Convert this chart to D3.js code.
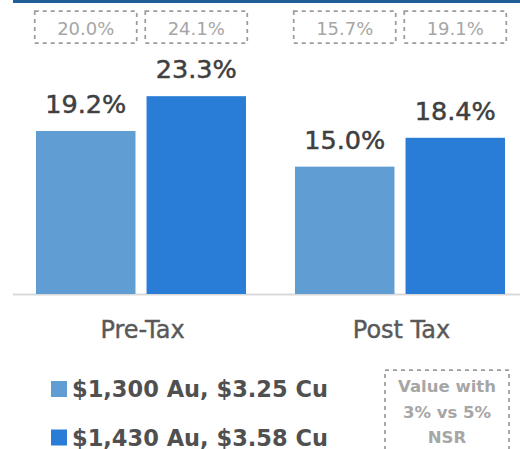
<!DOCTYPE html>
<html>
<head>
<meta charset="utf-8">
<script src="https://cdn.jsdelivr.net/npm/d3@7"></script>
<style>
  body { margin: 0; background: #fff; }
  svg { display: block; font-family: "DejaVu Sans", "Liberation Sans", sans-serif; }
</style>
</head>
<body>
<svg id="chart" width="520" height="449"></svg>
<script>
// data
var categories = ['Pre-Tax', 'Post Tax'];
var seriesNames = ['$1,300 Au, $3.25 Cu', '$1,430 Au, $3.58 Cu'];
var seriesColors = ['#5f9dd2', '#2a7dd6'];
var values3pct = [[19.2, 23.3], [15.0, 18.4]];   // [category][series]
var values5pct = [[20.0, 24.1], [15.7, 19.1]];   // shown in dashed boxes
var noteLines = ['Value with', '3% vs 5%', 'NSR'];

var svg = d3.select('#chart');
var baseY = 294;

var x0 = d3.scaleBand().domain(categories).range([12, 530]);
var x1 = d3.scaleBand().domain([0, 1]).range([24, 234]).paddingInner(0.1);
var y = d3.scaleLinear().domain([0, 25]).range([baseY, baseY - 25 * 8.49]);

// top rule
svg.append('rect').attr('x', 13).attr('y', 0).attr('width', 507).attr('height', 3)
  .attr('fill', '#1f5f96');

// baseline
svg.append('line').attr('x1', 13).attr('x2', 520).attr('y1', baseY + 0.5).attr('y2', baseY + 0.5)
  .attr('stroke', '#d9d9d9').attr('stroke-width', 2);

var groups = svg.selectAll('g.grp').data(categories).enter().append('g')
  .attr('class', 'grp')
  .attr('transform', function (d) { return 'translate(' + x0(d) + ',0)'; });

groups.selectAll('rect.bar')
  .data(function (d, i) { return values3pct[i].map(function (v, j) { return { s: j, v: v }; }); })
  .enter().append('rect')
  .attr('class', 'bar')
  .attr('x', function (d) { return x1(d.s); })
  .attr('y', function (d) { return y(d.v); })
  .attr('width', x1.bandwidth())
  .attr('height', function (d) { return baseY - y(d.v); })
  .attr('fill', function (d) { return seriesColors[d.s]; });

groups.selectAll('text.val')
  .data(function (d, i) { return values3pct[i].map(function (v, j) { return { s: j, v: v }; }); })
  .enter().append('text')
  .attr('class', 'val')
  .attr('x', function (d) { return x1(d.s) + x1.bandwidth() / 2; })
  .attr('y', function (d) { return y(d.v) - 18; })
  .attr('text-anchor', 'middle')
  .attr('font-size', 25.5)
  .attr('fill', '#404040')
  .attr('stroke', '#404040')
  .attr('stroke-width', 0.5)
  .text(function (d) { return d.v.toFixed(1) + '%'; });

// dashed boxes with 5% NSR values
var boxes = groups.selectAll('g.box')
  .data(function (d, i) { return values5pct[i].map(function (v, j) { return { s: j, v: v }; }); })
  .enter().append('g').attr('class', 'box');

boxes.append('rect')
  .attr('x', function (d) { return x1(d.s) + x1.bandwidth() / 2 - 51; })
  .attr('y', 11)
  .attr('width', 102)
  .attr('height', 32)
  .attr('fill', 'none')
  .attr('stroke', '#9c9c9c')
  .attr('stroke-width', 1.75)
  .attr('stroke-dasharray', '4,4');

boxes.append('text')
  .attr('x', function (d) { return x1(d.s) + x1.bandwidth() / 2; })
  .attr('y', 35)
  .attr('text-anchor', 'middle')
  .attr('font-size', 18)
  .attr('fill', '#a6a6a6')
  .text(function (d) { return d.v.toFixed(1) + '%'; });

// category labels
svg.selectAll('text.cat').data(categories).enter().append('text')
  .attr('class', 'cat')
  .attr('x', function (d) { return x0(d) + x0.bandwidth() / 2 + 1; })
  .attr('y', 338)
  .attr('text-anchor', 'middle')
  .attr('font-size', 24)
  .attr('fill', '#595959')
  .attr('stroke', '#595959')
  .attr('stroke-width', 0.4)
  .text(function (d) { return d; });

// legend
var leg = svg.selectAll('g.leg').data(seriesNames).enter().append('g')
  .attr('class', 'leg')
  .attr('transform', function (d, i) { return 'translate(51,' + (397 + i * 48.5) + ')'; });

leg.append('rect').attr('x', 0).attr('y', -16).attr('width', 16).attr('height', 16)
  .attr('fill', function (d, i) { return seriesColors[i]; });

leg.append('text').attr('x', 21).attr('y', 0)
  .attr('font-size', 22.5).attr('font-weight', 'bold').attr('fill', '#505050')
  .text(function (d) { return d; });

// note box
svg.append('rect').attr('x', 385).attr('y', 370).attr('width', 124).attr('height', 100)
  .attr('fill', 'none').attr('stroke', '#9c9c9c').attr('stroke-width', 1.75)
  .attr('stroke-dasharray', '4,4');

svg.selectAll('text.note').data(noteLines).enter().append('text')
  .attr('class', 'note')
  .attr('x', 447)
  .attr('y', function (d, i) { return 392 + i * 25.5; })
  .attr('text-anchor', 'middle')
  .attr('font-size', 16.5)
  .attr('font-weight', 'bold')
  .attr('fill', '#a6a6a6')
  .text(function (d) { return d; });
</script>
</body>
</html>
